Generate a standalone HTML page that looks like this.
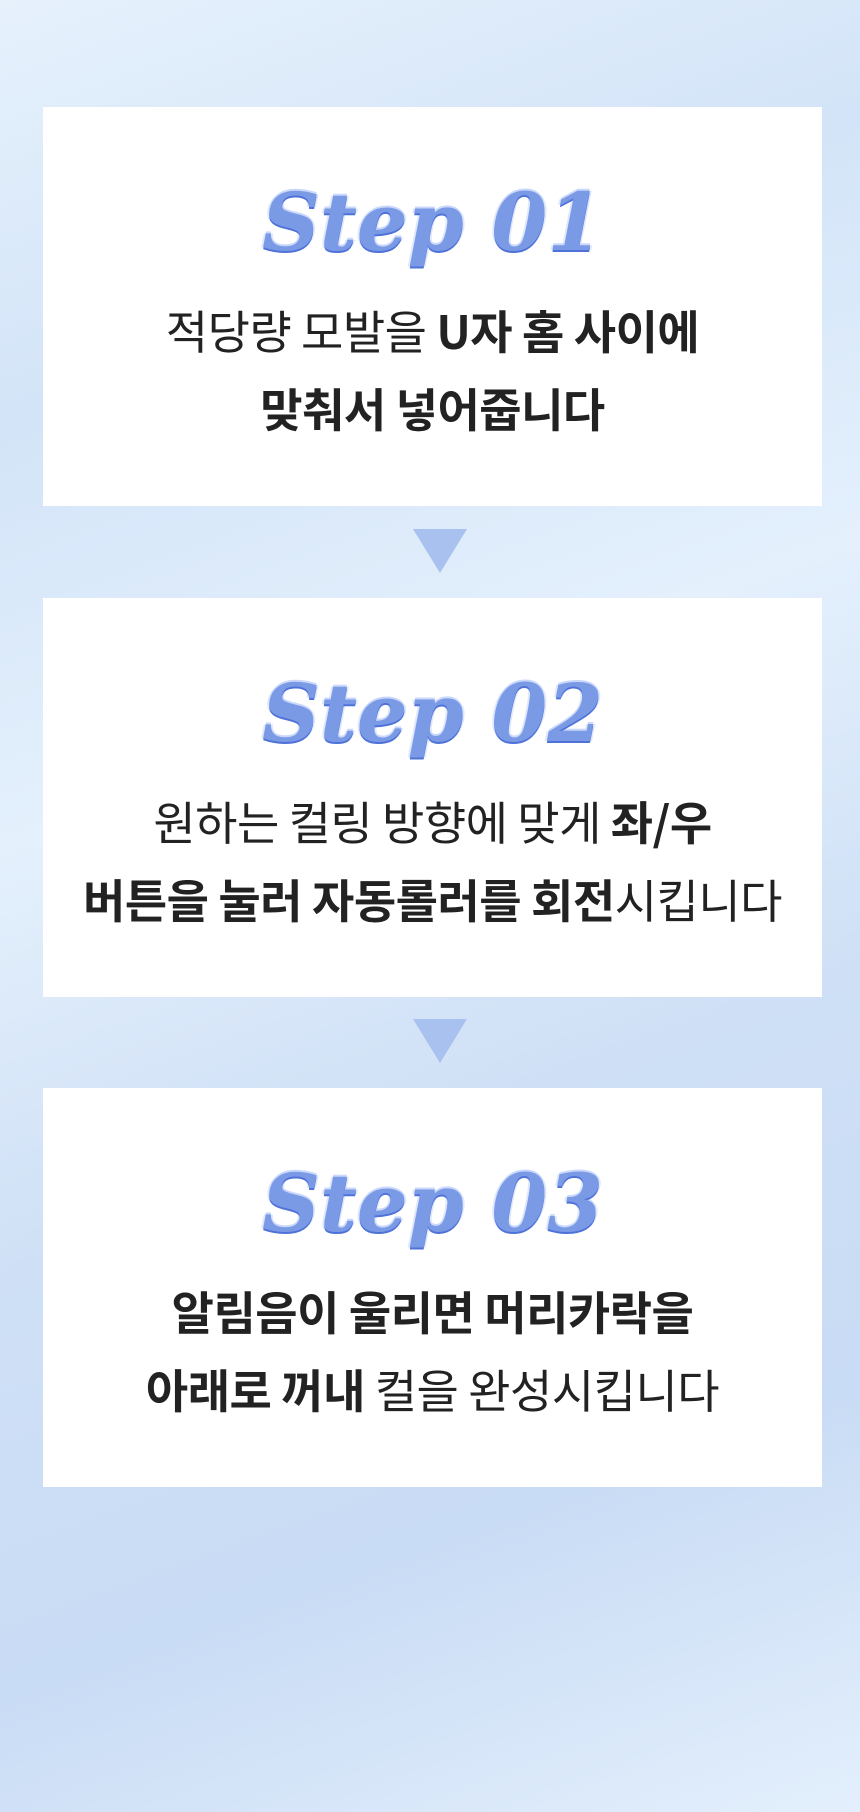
<!DOCTYPE html>
<html><head><meta charset="utf-8"><style>
*{margin:0;padding:0;box-sizing:border-box}
body{width:860px;height:1812px;overflow:hidden;position:relative;
background:linear-gradient(160deg,#e6f1fc 0%,#d3e4f8 20%,#e4f0fc 40%,#cfe0f6 60%,#c9dcf5 80%,#e3effc 100%);
font-family:"Liberation Sans","Noto Sans CJK KR",sans-serif;}
.box{position:absolute;left:43px;width:779px;height:399px;background:#fff;text-align:center;}
.step{position:absolute;left:0;right:0;top:70px;font-family:"DejaVu Serif","Liberation Serif",serif;font-style:italic;font-weight:bold;font-size:80px;line-height:90px;color:#7b9ae6;
text-shadow:0 2px 0 #4f72d8,0 -2px 0 #c9d8fb,2px 0 0 #dfe8fd,-2px 0 0 #dfe8fd;letter-spacing:0px;}
.t{position:absolute;left:-20px;right:-20px;font-size:46px;line-height:50px;color:#222;font-weight:400;font-family:"Noto Sans CJK KR",sans-serif;letter-spacing:-0.5px}
.t b{font-weight:700}
.l1{top:198px}.l2{top:276px}
.arr{position:absolute;left:413px;width:0;height:0;border-left:27px solid transparent;border-right:27px solid transparent;border-top:44px solid #a9c1ef;}
</style></head><body>
<div class="box" style="top:107px">
<div class="step">Step 01</div>
<div class="t l1">적당량 모발을 <b>U자 홈 사이에</b></div>
<div class="t l2"><b>맞춰서 넣어줍니다</b></div>
</div>
<div class="arr" style="top:529px"></div>
<div class="box" style="top:598px">
<div class="step">Step 02</div>
<div class="t l1">원하는 컬링 방향에 맞게 <b>좌/우</b></div>
<div class="t l2"><b>버튼을 눌러 자동롤러를 회전</b>시킵니다</div>
</div>
<div class="arr" style="top:1019px"></div>
<div class="box" style="top:1088px">
<div class="step">Step 03</div>
<div class="t l1"><b>알림음이 울리면 머리카락을</b></div>
<div class="t l2"><b>아래로 꺼내</b> 컬을 완성시킵니다</div>
</div>
</body></html>
